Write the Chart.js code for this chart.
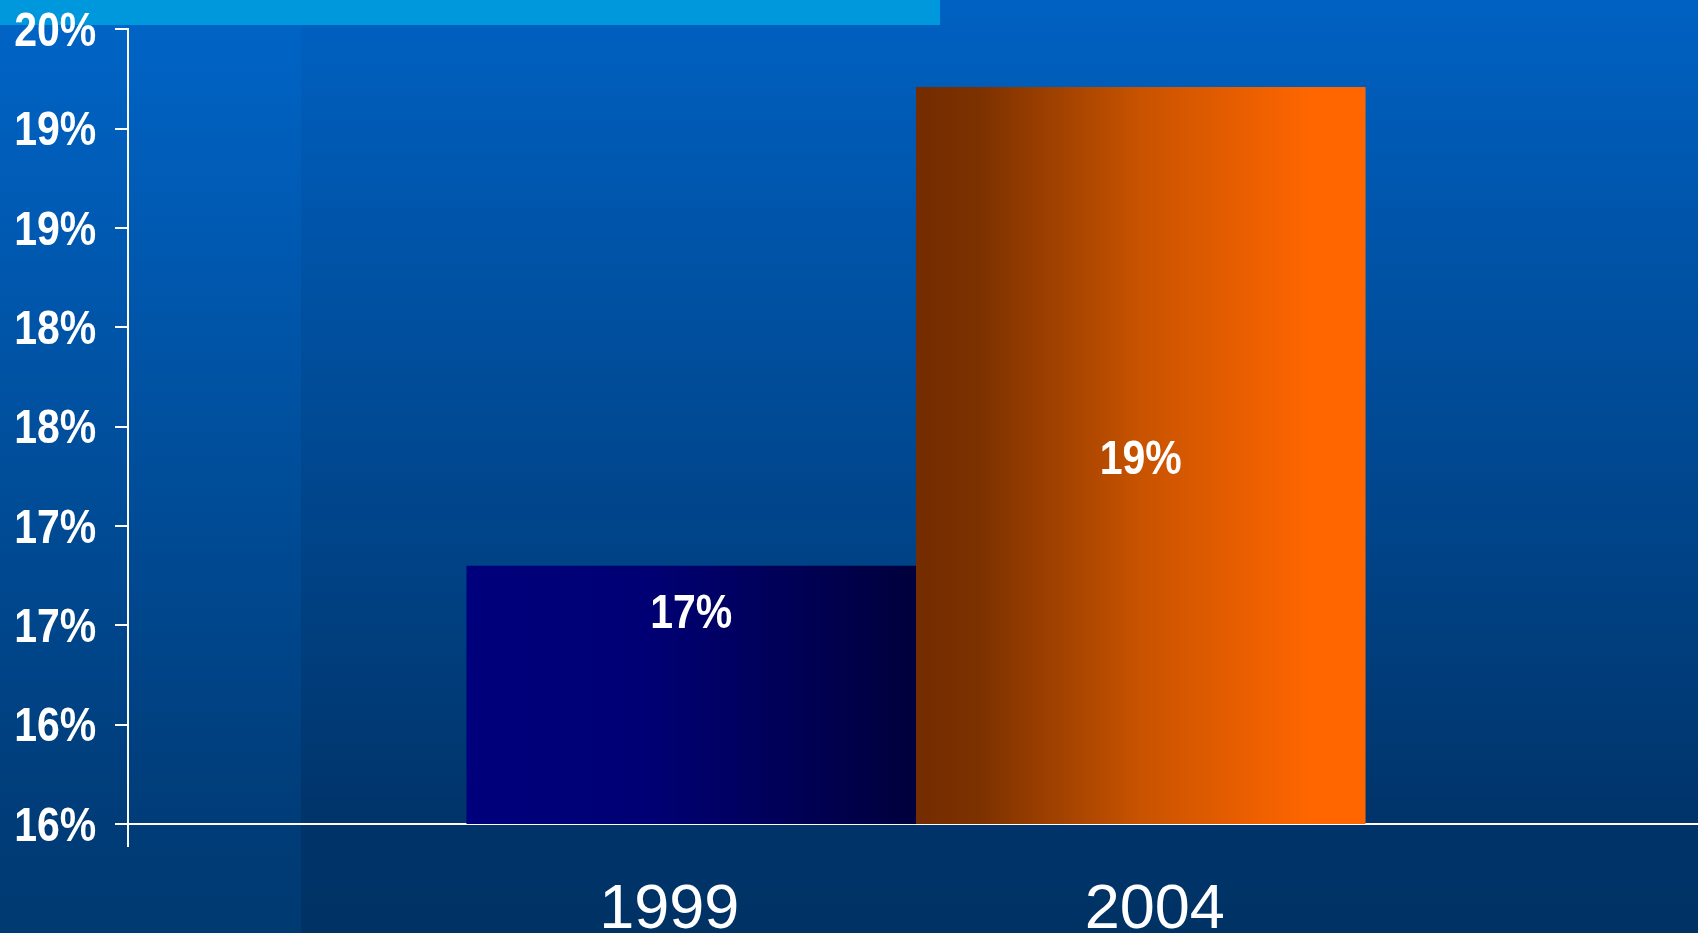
<!DOCTYPE html>
<html>
<head>
<meta charset="utf-8">
<title>1999 / 2004</title>
<script src="https://cdn.jsdelivr.net/npm/chart.js@4.4.0/dist/chart.umd.min.js"></script>
<style>
  html, body { margin: 0; padding: 0; background: #003366; overflow: hidden; }
  #wrap { width: 1704px; height: 933px; }
</style>
</head>
<body>
<div id="wrap"><canvas id="mycanvas" width="1704" height="933"></canvas></div>
<script>
// data
var years = ['1999', '2004'];
var shares = [16.8, 19.21];
var yTickLabels = ['16%', '16%', '17%', '17%', '18%', '18%', '19%', '19%', '20%'];

// bar fills, left -> right
var barStops = [
	[[0, '#00007c'], [0.4, '#000074'], [1, '#00003c']],
	[[0, '#742c00'], [0.14, '#7c3100'], [0.5, '#c85300'], [0.88, '#ff6600'], [1, '#ff6600']]
];
// where the value text sits inside each bar (fraction of bar height from top)
var valueAnchor = [0.24, 0.525];
var yearShift = [-22, 14];

// bold percentages are drawn horizontally squeezed, like a narrow face
var squeeze = 0.837;
var boldFamily = "'Liberation Sans', Arial, sans-serif";

var backdrop = {
	id: 'backdrop',
	afterLayout: function(chart) {
		var s = chart.scales.y;
		if (s._squeezed) return;
		var draw = s.drawLabels;
		s.drawLabels = function(area) {
			var c = this.ctx;
			c.save();
			c.translate(0, 3);
			c.scale(squeeze, 1);
			draw.call(this, area);
			c.restore();
		};
		s._squeezed = true;
	},
	beforeDraw: function(chart) {
		var c = chart.ctx, w = chart.width, h = chart.height;
		var split = 301;
		c.save();
		var g1 = c.createLinearGradient(0, 0, 0, h);
		g1.addColorStop(0, '#0065c8');
		g1.addColorStop(0.88, '#003c78');
		g1.addColorStop(1, '#003a72');
		c.fillStyle = g1;
		c.fillRect(0, 0, split, h);
		var g2 = c.createLinearGradient(0, 0, 0, h);
		g2.addColorStop(0, '#0061c2');
		g2.addColorStop(0.88, '#00346a');
		g2.addColorStop(1, '#003264');
		c.fillStyle = g2;
		c.fillRect(split, 0, w - split, h);
		// strip along the top
		c.fillStyle = '#0098dd';
		c.fillRect(0, 0, 940, 25);
		c.restore();
	},
	beforeDatasetsDraw: function(chart) {
		var c = chart.ctx;
		chart.data.datasets.forEach(function(ds, i) {
			chart.getDatasetMeta(i).data.forEach(function(bar) {
				var g = c.createLinearGradient(bar.x - bar.width / 2, 0, bar.x + bar.width / 2, 0);
				barStops[i].forEach(function(s) { g.addColorStop(s[0], s[1]); });
				bar.options.backgroundColor = g;
			});
		});
	},
	afterDatasetsDraw: function(chart) {
		var c = chart.ctx;
		var bottom = chart.scales.y.bottom;
		c.save();
		c.fillStyle = '#ffffff';
		c.textAlign = 'center';
		c.textBaseline = 'alphabetic';
		chart.data.datasets.forEach(function(ds, i) {
			chart.getDatasetMeta(i).data.forEach(function(bar, j) {
				var v = ds.data[j];
				var ty = bar.y + (bottom - bar.y) * valueAnchor[i];
				c.save();
				c.translate(bar.x, ty);
				c.scale(squeeze, 1);
				c.font = 'bold 49px ' + boldFamily;
				c.fillText(Math.round(v) + '%', 0, 0);
				c.restore();
				c.font = "63px 'Liberation Sans', Arial, sans-serif";
				c.fillText(ds.label, bar.x + yearShift[i], bottom + 104);
			});
		});
		c.restore();
	}
};

var chartdata = {
	labels: [''],
	datasets: years.map(function(y, i) {
		return {
			label: y,
			data: [shares[i]],
			backgroundColor: barStops[i][0][1],
			borderWidth: 0,
			barPercentage: 1.0,
			categoryPercentage: 0.5705
		};
	})
};

var ctx = document.getElementById('mycanvas');

var barGraph = new Chart(ctx, {
	type: 'bar',
	data: chartdata,
	plugins: [backdrop],
	options: {
		responsive: false,
		animation: false,
		devicePixelRatio: 1,
		layout: { padding: { top: 12, left: 0, right: 0, bottom: 0 } },
		plugins: {
			legend: { display: false },
			tooltip: { enabled: false }
		},
		scales: {
			x: {
				ticks: { display: false },
				grid: {
					display: true,
					offset: true,
					drawOnChartArea: false,
					drawTicks: true,
					tickLength: 23,
					color: '#ffffff',
					lineWidth: 2
				},
				border: { display: true, color: '#ffffff', width: 2 },
				afterFit: function(scale) { scale.height = 109; }
			},
			y: {
				min: 15.5,
				max: 19.5,
				ticks: {
					stepSize: 0.5,
					padding: 0,
					color: '#ffffff',
					font: { family: boldFamily, size: 49, weight: 'bold' },
					callback: function(v, i) { return yTickLabels[i]; }
				},
				grid: {
					drawOnChartArea: false,
					drawTicks: true,
					tickLength: 13,
					color: '#ffffff',
					lineWidth: 2
				},
				border: { display: true, color: '#ffffff', width: 2 },
				afterFit: function(scale) { scale.width = 128; }
			}
		}
	}
});
</script>
</body>
</html>
